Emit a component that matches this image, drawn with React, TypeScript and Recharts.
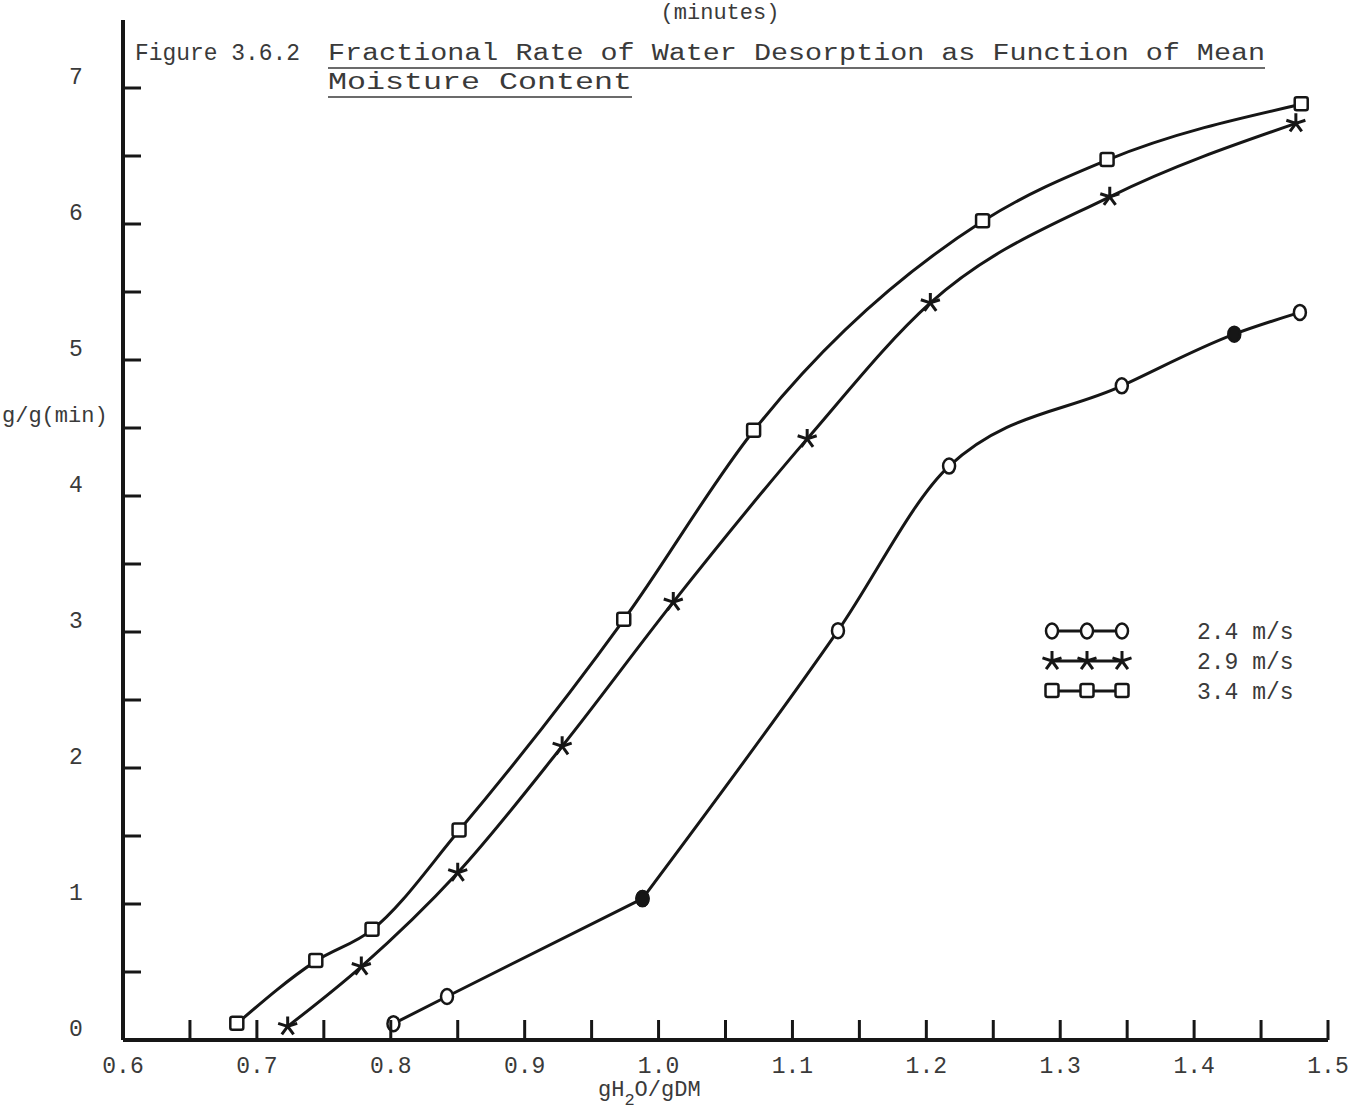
import React from 'react';
import { LineChart, Line, XAxis, YAxis } from 'recharts';

const X_TICKS = [0.6, 0.65, 0.7, 0.75, 0.8, 0.85, 0.9, 0.95, 1.0, 1.05, 1.1, 1.15, 1.2, 1.25, 1.3, 1.35, 1.4, 1.45, 1.5];
const X_LABELS = ['0.6', '0.7', '0.8', '0.9', '1.0', '1.1', '1.2', '1.3', '1.4', '1.5'];
const Y_TICKS = [0, 0.5, 1, 1.5, 2, 2.5, 3, 3.5, 4, 4.5, 5, 5.5, 6, 6.5, 7];

const S24_X = [0.802, 0.842, 0.988, 1.134, 1.217, 1.346, 1.43, 1.479];
const S24_Y = [0.12, 0.32, 1.04, 3.01, 4.22, 4.81, 5.19, 5.35];
const S29_X = [0.723, 0.778, 0.85, 0.928, 1.011, 1.111, 1.203, 1.337, 1.476];
const S29_Y = [0.1, 0.54, 1.23, 2.16, 3.22, 4.42, 5.42, 6.2, 6.74];
const S34_X = [0.685, 0.744, 0.786, 0.851, 0.974, 1.071, 1.242, 1.335, 1.48];
const S34_Y = [0.12, 0.58, 0.81, 1.54, 3.09, 4.48, 6.02, 6.47, 6.88];

const SERIES_NAMES = ['2.4 m/s', '2.9 m/s', '3.4 m/s'];

const toRows = (xs: number[], ys: number[]) => xs.map((x, i) => ({ x, y: ys[i] }));
const data24 = toRows(S24_X, S24_Y);
const data29 = toRows(S29_X, S29_Y);
const data34 = toRows(S34_X, S34_Y);

const W = 1348;
const H = 1111;
const LEFT = 123;
const AXIS_H = 71;
const AXIS_Y = H - AXIS_H;
const INK = '#161616';
const TEXT = '#3a3a3a';
const FONT = '"Liberation Mono", "DejaVu Sans Mono", monospace';

const Circle = ({ cx, cy, filled }: any) => (
  <ellipse cx={cx} cy={cy} rx={6} ry={7.5} fill={filled ? INK : '#fff'} stroke={INK} strokeWidth={2.5} />
);

const Square = ({ cx, cy }: any) => (
  <rect x={cx - 6.5} y={cy - 7} width={13} height={13} rx={2} fill="#fff" stroke={INK} strokeWidth={2.5} />
);

const Star = ({ cx, cy }: any) => {
  const arms = [-90, -18, 54, 126, 198].map((a) => {
    const r = (a * Math.PI) / 180;
    return `M${cx},${cy}L${cx + Math.cos(r) * 10},${cy + Math.sin(r) * 10}`;
  });
  return <path d={arms.join('')} stroke={INK} strokeWidth={3} fill="none" />;
};

const dot24 = (p: any) => <Circle key={`c${p.index}`} cx={p.cx} cy={p.cy} filled={p.payload.x === 0.988 || p.payload.x === 1.43} />;
const dot29 = (p: any) => <Star key={`s${p.index}`} cx={p.cx} cy={p.cy} />;
const dot34 = (p: any) => <Square key={`q${p.index}`} cx={p.cx} cy={p.cy} />;

const XTick = ({ x, payload }: any) => {
  const v = payload.value;
  const label = X_LABELS.find((l) => Math.abs(parseFloat(l) - v) < 1e-6);
  return (
    <g>
      {v > 0.6 && <line x1={x} x2={x} y1={AXIS_Y} y2={AXIS_Y - 20} stroke={INK} strokeWidth={3} />}
      {label && (
        <text x={x} y={AXIS_Y + 33} textAnchor="middle" fill={TEXT} fontSize={23} fontFamily={FONT}>
          {label}
        </text>
      )}
    </g>
  );
};

const YTick = ({ y, payload }: any) => {
  const v = payload.value;
  return (
    <g>
      {v > 0 && <line x1={LEFT} x2={LEFT + 18} y1={y} y2={y} stroke={INK} strokeWidth={3} />}
      {Number.isInteger(v) && (
        <text x={76} y={y - 4} textAnchor="middle" fill={TEXT} fontSize={23} fontFamily={FONT}>
          {v}
        </text>
      )}
    </g>
  );
};

const LegendBox = () => {
  const rows = [
    { name: SERIES_NAMES[0], Mark: Circle },
    { name: SERIES_NAMES[1], Mark: Star },
    { name: SERIES_NAMES[2], Mark: Square },
  ];
  return (
    <svg width={300} height={100} style={{ position: 'absolute', left: 1040, top: 615 }}>
      {rows.map((r, i) => {
        const cy = 16 + i * 30;
        return (
          <g key={r.name}>
            <line x1={12} x2={82} y1={cy} y2={cy} stroke={INK} strokeWidth={3} />
            <r.Mark cx={12} cy={cy} />
            <r.Mark cx={47} cy={cy} />
            <r.Mark cx={82} cy={cy} />
            <text x={157} y={cy + 8} fill={TEXT} fontSize={23} fontFamily={FONT}>
              {r.name}
            </text>
          </g>
        );
      })}
    </svg>
  );
};

export default function App() {
  return (
    <div style={{ position: 'absolute', left: 0, top: 0, width: W, height: H, background: '#fff', fontFamily: FONT }}>
      <LineChart width={W} height={H} margin={{ top: 20, right: 20, left: 0, bottom: 0 }}>
        <XAxis
          type="number"
          dataKey="x"
          domain={[0.6, 1.5]}
          ticks={X_TICKS}
          interval={0}
          height={AXIS_H}
          axisLine={{ stroke: INK, strokeWidth: 4 }}
          tickLine={false}
          tick={<XTick />}
          allowDataOverflow
        />
        <YAxis
          type="number"
          dataKey="y"
          domain={[0, 7.5]}
          ticks={Y_TICKS}
          interval={0}
          width={LEFT}
          axisLine={{ stroke: INK, strokeWidth: 4 }}
          tickLine={false}
          tick={<YTick />}
          allowDataOverflow
        />
        <Line data={data34} dataKey="y" name={SERIES_NAMES[2]} type="monotone" stroke={INK} strokeWidth={3} dot={dot34} isAnimationActive={false} />
        <Line data={data29} dataKey="y" name={SERIES_NAMES[1]} type="monotone" stroke={INK} strokeWidth={3} dot={dot29} isAnimationActive={false} />
        <Line data={data24.slice(0, 3)} dataKey="y" name={SERIES_NAMES[0]} type="linear" stroke={INK} strokeWidth={3} dot={dot24} isAnimationActive={false} />
        <Line data={data24.slice(2)} dataKey="y" name={SERIES_NAMES[0] + ' '} type="monotone" stroke={INK} strokeWidth={3} dot={dot24} isAnimationActive={false} />
      </LineChart>

      <svg width={W} height={H} style={{ position: 'absolute', left: 0, top: 0, pointerEvents: 'none' }}>
        <text x={720} y={19} textAnchor="middle" fill={TEXT} fontSize={22} fontFamily={FONT}>(minutes)</text>
        <text x={135} y={60} fill={TEXT} fontSize={23} fontFamily={FONT} textLength={165} lengthAdjust="spacingAndGlyphs">Figure 3.6.2</text>
        <text x={328} y={60} fill={TEXT} fontSize={23} fontFamily={FONT} textLength={937} lengthAdjust="spacingAndGlyphs">
          Fractional Rate of Water Desorption as Function of Mean
        </text>
        <line x1={328} x2={1265} y1={68} y2={68} stroke={TEXT} strokeWidth={1.5} />
        <text x={328} y={89} fill={TEXT} fontSize={23} fontFamily={FONT} textLength={304} lengthAdjust="spacingAndGlyphs">Moisture Content</text>
        <line x1={328} x2={632} y1={97} y2={97} stroke={TEXT} strokeWidth={1.5} />
        <text x={2} y={422} fill={TEXT} fontSize={22} fontFamily={FONT}>g/g(min)</text>
        <text x={598} y={1096} fill={TEXT} fontSize={22} fontFamily={FONT}>
          gH<tspan dy={9} fontSize={17}>2</tspan><tspan dy={-9}>O/gDM</tspan>
        </text>
      </svg>

      <LegendBox />
    </div>
  );
}
